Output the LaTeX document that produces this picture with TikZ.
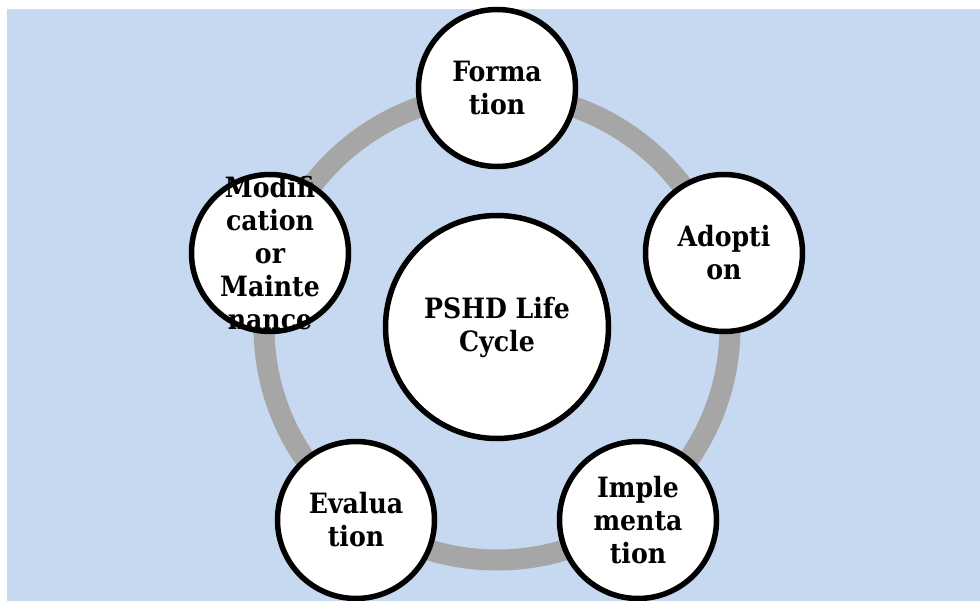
\documentclass[tikz,border=0pt]{standalone}
\usepackage{fontspec}
\setmainfont{DejaVu Serif Condensed}
\definecolor{bgblue}{RGB}{198,217,240}
\definecolor{ringgray}{RGB}{166,166,166}
\tikzset{
  stage/.style={circle, draw, line width=5.5bp, fill=white, minimum size=157bp, inner sep=0pt},
  hub/.style={stage, minimum size=223bp},
  lbl/.style={align=center, font=\fontsize{28bp}{33bp}\selectfont\bfseries}
}
\begin{document}
\begin{tikzpicture}[x=1bp,y=-1bp]
   \useasboundingbox (0,0) rectangle (980,601);
   \fill[bgblue] (7,9) rectangle (980,601);
   \draw[ringgray, line width=21bp] (497,327) circle (233);
   \node[hub, label={[lbl]center:PSHD Life\\Cycle}] (hub) at (497,327) {};
   \foreach \x/\y/\n/\t in {497/88/form/{Forma\\tion}, 724/253/adop/{Adopti\\on}, 638/520/impl/{Imple\\menta\\tion}, 356/520/eval/{Evalua\\tion}, 270/253/modi/{Modifi\\cation\\or\\Mainte\\nance}}
   {
       \node[stage, label={[lbl]center:\t}] (\n) at (\x,\y) {};
   }
\end{tikzpicture}
\end{document}
